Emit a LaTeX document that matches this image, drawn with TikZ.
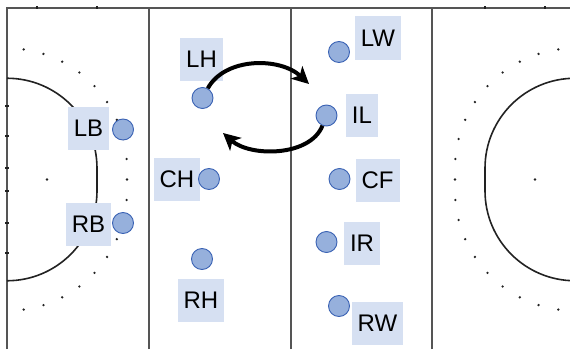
\documentclass[tikz,border=0pt]{standalone}
\usepackage{fontspec}
\setmainfont{Liberation Sans}
\usetikzlibrary{arrows.meta,calc}
\definecolor{boxfill}{RGB}{214,224,242}
\definecolor{dotfill}{RGB}{150,176,220}
\definecolor{dotline}{RGB}{58,98,180}
\definecolor{fieldline}{RGB}{85,85,85}
\definecolor{dline}{RGB}{34,34,34}
\tikzset{
  player/.style={circle, fill=dotfill, draw=dotline, line width=0.9pt, minimum size=21pt, inner sep=0pt},
  tag/.style={fill=boxfill, inner xsep=6pt, inner ysep=0pt, minimum height=43pt, font=\fontsize{24}{28}\selectfont, text=black},
  field/.style={draw=fieldline, line width=2pt},
  dcurve/.style={draw=dline, line width=1.6pt},
  tick/.style={fill=dline},
  spot/.style={fill=dline},
  arr/.style={draw=black, line width=4pt, -{Stealth[length=17pt, width=17pt, inset=4.5pt]}}
}
\begin{document}
\begin{tikzpicture}[x=1pt,y=1pt]
\useasboundingbox (0,0) rectangle (570,349);
\fill[white] (0,0) rectangle (570,349);
% field lines
\draw[field] (7,0) -- (7,341) -- (570,341);
\draw[field] (148.5,0) -- (148.5,341);
\draw[field] (290.5,0) -- (290.5,341);
\draw[field] (432,0) -- (432,341);
% ticks
\foreach \x in {37,97,485,545} \fill[tick] (\x-1.3,339.7) rectangle (\x+1.3,343.3);
\foreach \y in {106,136,168,191,223,253} \fill[tick] (5.2,349-\y-1.3) rectangle (8.8,349-\y+1.3);
% left D
\draw[dcurve] (7,270.75) arc (90:0:90) -- (97,158.25) arc (0:-90:90);
% right D
\draw[dcurve] (575,270.75) arc (90:180:90) -- (485,158.25) arc (180:270:90);
% dotted arcs
\foreach \a in {4.4,14.1,23.8,33.5,43.2,52.9,62.6,72.3,82} {
  \fill[spot] ($(7,180.75)+(\a:120)$) circle (1.3);
  \fill[spot] ($(7,158.25)+(-\a:120)$) circle (1.3);
  \fill[spot] ($(575,180.75)+(180-\a:120)$) circle (1.3);
  \fill[spot] ($(575,158.25)+(180+\a:120)$) circle (1.3);
}
\fill[spot] (127,169.5) circle (1.3);
\fill[spot] (455,169.5) circle (1.3);
% penalty spots
\fill[spot] (47,169.5) circle (1.3);
\fill[spot] (535,169.5) circle (1.3);
% labels
\node[tag] (tLB) at (88.5,220.5) {LB};
\node[tag] (tRB) at (88.5,124.5) {RB};
\node[tag] (tLH) at (201.5,289.5) {LH};
\node[tag] (tCH) at (177,169.5) {CH};
\node[tag] (tRH) at (201,49) {RH};
\node[tag] (tLW) at (378,311) {LW};
\node[tag] (tIL) at (362,233.5) {IL};
\node[tag] (tCF) at (377.5,169) {CF};
\node[tag] (tIR) at (362,105.5) {IR};
\node[tag] (tRW) at (377.5,26) {RW};
% players
\node[player] (pLB) at (123,219.5) {};
\node[player] (pRB) at (123,126) {};
\node[player] (pLH) at (202.5,251) {};
\node[player] (pCH) at (209,170) {};
\node[player] (pRH) at (202,90) {};
\node[player] (pLW) at (339,297) {};
\node[player] (pIL) at (326.5,233.5) {};
\node[player] (pCF) at (339.5,170) {};
\node[player] (pIR) at (326.5,107) {};
\node[player] (pRW) at (339,43) {};
% arrows
\coordinate (a1) at (309,265);
\coordinate (a2) at (223,216);
\draw[arr] (pLH) .. controls (225,292) and (280,292) .. (a1);
\draw[arr] (pIL) .. controls (310,192) and (250,192) .. (a2);
\end{tikzpicture}
\end{document}
